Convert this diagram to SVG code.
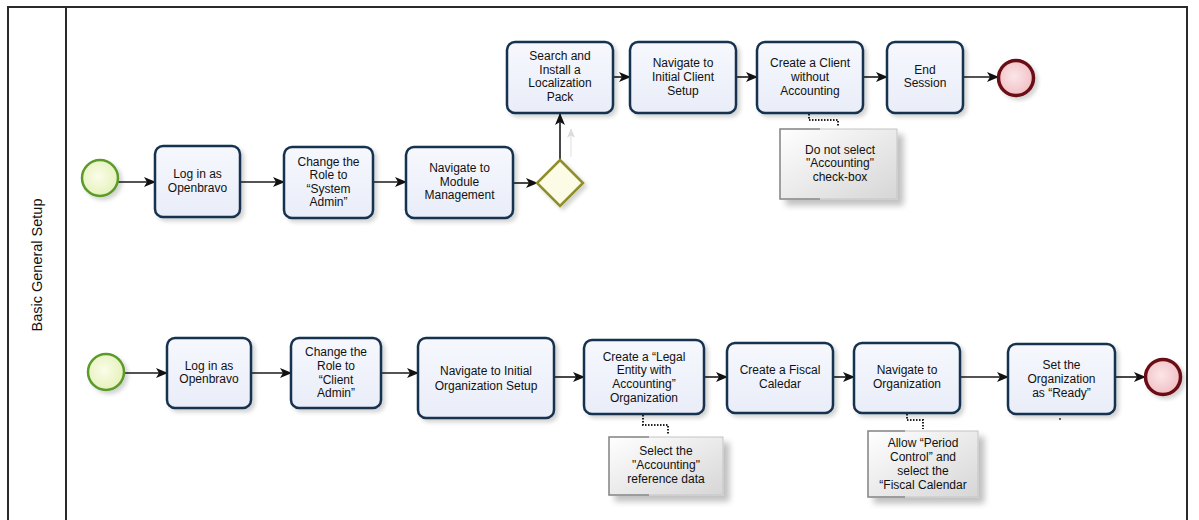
<svg xmlns="http://www.w3.org/2000/svg" width="1199" height="520" viewBox="0 0 1199 520">
<style>
.task{fill:url(#taskGrad);stroke:#17324f;stroke-width:2.5;filter:url(#shadow)}
.t{font-family:"Liberation Sans",Arial,sans-serif;font-size:12px;fill:#111;text-anchor:middle}
.flow{fill:none;stroke:#1a1a1a;stroke-width:1.6;marker-end:url(#arrow)}
.assoc{fill:none;stroke:#222;stroke-width:2;stroke-dasharray:1.5 1.5}
.note{fill:url(#noteGrad);stroke:#c4c4c4;stroke-width:1;filter:url(#noteShadow)}
.bracket{fill:none;stroke:#8a8a8a;stroke-width:1.5}
</style>
<defs>
<linearGradient id="taskGrad" x1="0" y1="0" x2="0" y2="1">
<stop offset="0" stop-color="#f6f8fd"/><stop offset="1" stop-color="#e9edf8"/>
</linearGradient>
<linearGradient id="noteGrad" x1="0" y1="0" x2="1" y2="1">
<stop offset="0" stop-color="#ffffff"/><stop offset="1" stop-color="#d6d6d6"/>
</linearGradient>
<radialGradient id="startGrad" cx="0.45" cy="0.45" r="0.6">
<stop offset="0" stop-color="#fbfde8"/><stop offset="1" stop-color="#e4f0b8"/>
</radialGradient>
<radialGradient id="endGrad" cx="0.45" cy="0.45" r="0.6">
<stop offset="0" stop-color="#fbe6e8"/><stop offset="1" stop-color="#f0bcc2"/>
</radialGradient>
<filter id="shadow" x="-10%" y="-10%" width="130%" height="130%">
<feGaussianBlur in="SourceAlpha" stdDeviation="2"/>
<feOffset dx="3" dy="3" result="b"/>
<feComponentTransfer><feFuncA type="linear" slope="0.18"/></feComponentTransfer>
<feMerge><feMergeNode/><feMergeNode in="SourceGraphic"/></feMerge>
</filter>
<filter id="noteShadow" x="-10%" y="-10%" width="135%" height="140%">
<feGaussianBlur in="SourceAlpha" stdDeviation="3"/>
<feOffset dx="6" dy="6" result="b"/>
<feComponentTransfer><feFuncA type="linear" slope="0.25"/></feComponentTransfer>
<feMerge><feMergeNode/><feMergeNode in="SourceGraphic"/></feMerge>
</filter>
<marker id="arrow" viewBox="0 0 12 10" refX="11" refY="5" markerWidth="12" markerHeight="10" markerUnits="userSpaceOnUse" orient="auto">
<path d="M0,0 L12,5 L0,10 L3,5 Z" fill="#111"/>
</marker>
<marker id="ghostArrow" viewBox="0 0 12 10" refX="11" refY="5" markerWidth="10" markerHeight="8" markerUnits="userSpaceOnUse" orient="auto">
<path d="M0,0 L12,5 L0,10 L3,5 Z" fill="#dcdcdc"/>
</marker>
</defs>
<rect x="0" y="0" width="1199" height="520" fill="#ffffff"/>

<g id="lane">
<rect x="8" y="7" width="1179" height="530" fill="none" stroke="#2a2a2a" stroke-width="2"/>
<line x1="66" y1="7" x2="66" y2="520" stroke="#2a2a2a" stroke-width="2"/>
<text transform="translate(42,265) rotate(-90)" font-family="Liberation Sans,Arial,sans-serif" font-size="14.5" fill="#111" text-anchor="middle">Basic General Setup</text>
</g>

<g id="connectors">
<path class="flow" d="M118,182 L155,182"/>
<path class="flow" d="M240,182 L284,182"/>
<path class="flow" d="M373,182 L406,182"/>
<path class="flow" d="M513,183 L537,183"/>
<path class="flow" d="M560,160 L560,114"/>
<path d="M571,157 L571,129" fill="none" stroke="#e4e4e4" stroke-width="1.2" marker-end="url(#ghostArrow)"/>
<path class="flow" d="M613,77 L630,77"/>
<path class="flow" d="M736,77 L757,77"/>
<path class="flow" d="M863,77 L887,77"/>
<path class="flow" d="M963,77 L998,77"/>
<path class="flow" d="M124,373 L167,373"/>
<path class="flow" d="M251,373 L291,373"/>
<path class="flow" d="M381,373 L418,373"/>
<path class="flow" d="M554,377 L584,377"/>
<path class="flow" d="M704,377 L727,377"/>
<path class="flow" d="M833,377 L854,377"/>
<path class="flow" d="M960,377 L1008,377"/>
<path class="flow" d="M1115,377 L1145,377"/>
<path class="assoc" d="M809,114 L809,120 L838,120 L838,127"/>
<path class="assoc" d="M643,415 L643,425 L668,425 L668,434"/>
<path class="assoc" d="M907,414 L907,420 L923,420 L923,429"/>
</g>

<g id="start1"><circle cx="100" cy="178" r="18" fill="url(#startGrad)" stroke="#5b9a2c" stroke-width="2.5" filter="url(#shadow)"/></g>
<g id="login1"><rect class="task" x="155" y="146" width="85" height="71" rx="8"/>
<text class="t" x="197.5" y="178">Log in as</text><text class="t" x="197.5" y="192">Openbravo</text></g>
<g id="role1"><rect class="task" x="284" y="147" width="89" height="71" rx="8"/>
<text class="t" x="328.5" y="166">Change the</text><text class="t" x="328.5" y="179">Role to</text><text class="t" x="328.5" y="193">“System</text><text class="t" x="328.5" y="206">Admin”</text></g>
<g id="module"><rect class="task" x="406" y="147" width="107" height="71" rx="8"/>
<text class="t" x="459.5" y="172">Navigate to</text><text class="t" x="459.5" y="186">Module</text><text class="t" x="459.5" y="199">Management</text></g>
<g id="gateway"><path d="M560,160 L583,183 L560,206 L537,183 Z" fill="#fcfce6" stroke="#8f8f2c" stroke-width="2.5" filter="url(#shadow)"/></g>
<g id="search"><rect class="task" x="507" y="42" width="106" height="71" rx="8"/>
<text class="t" x="560" y="60">Search and</text><text class="t" x="560" y="74">Install a</text><text class="t" x="560" y="87">Localization</text><text class="t" x="560" y="101">Pack</text></g>
<g id="initclient"><rect class="task" x="630" y="42" width="106" height="71" rx="8"/>
<text class="t" x="683" y="67">Navigate to</text><text class="t" x="683" y="81">Initial Client</text><text class="t" x="683" y="95">Setup</text></g>
<g id="client"><rect class="task" x="757" y="42" width="106" height="71" rx="8"/>
<text class="t" x="810" y="67">Create a Client</text><text class="t" x="810" y="81">without</text><text class="t" x="810" y="95">Accounting</text></g>
<g id="endsession"><rect class="task" x="887" y="42" width="76" height="71" rx="8"/>
<text class="t" x="925" y="74">End</text><text class="t" x="925" y="87">Session</text></g>
<g id="end1"><circle cx="1016" cy="78" r="17.5" fill="url(#endGrad)" stroke="#6a0f14" stroke-width="3.5" filter="url(#shadow)"/></g>
<g id="note1"><rect class="note" x="780" y="129" width="117" height="70"/>
<path class="bracket" d="M820,129 L780,129 L780,199 L820,199"/>
<text class="t" x="840" y="154">Do not select</text><text class="t" x="840" y="167">"Accounting"</text><text class="t" x="840" y="181">check-box</text></g>

<g id="start2"><circle cx="106" cy="372" r="18" fill="url(#startGrad)" stroke="#5b9a2c" stroke-width="2.5" filter="url(#shadow)"/></g>
<g id="login2"><rect class="task" x="167" y="338" width="84" height="70" rx="8"/>
<text class="t" x="209" y="370">Log in as</text><text class="t" x="209" y="383">Openbravo</text></g>
<g id="role2"><rect class="task" x="291" y="338" width="90" height="70" rx="8"/>
<text class="t" x="336" y="356">Change the</text><text class="t" x="336" y="370">Role to</text><text class="t" x="336" y="384">“Client</text><text class="t" x="336" y="397">Admin”</text></g>
<g id="initorg"><rect class="task" x="418" y="338" width="136" height="80" rx="8"/>
<text class="t" x="486" y="375">Navigate to Initial</text><text class="t" x="486" y="390">Organization Setup</text></g>
<g id="legal"><rect class="task" x="584" y="340" width="120" height="74" rx="8"/>
<text class="t" x="644" y="361">Create a “Legal</text><text class="t" x="644" y="374">Entity with</text><text class="t" x="644" y="388">Accounting”</text><text class="t" x="644" y="402">Organization</text></g>
<g id="fiscal"><rect class="task" x="727" y="343" width="106" height="70" rx="8"/>
<text class="t" x="780" y="374">Create a Fiscal</text><text class="t" x="780" y="388">Caledar</text></g>
<g id="navorg"><rect class="task" x="854" y="343" width="106" height="70" rx="8"/>
<text class="t" x="907" y="374">Navigate to</text><text class="t" x="907" y="388">Organization</text></g>
<g id="ready"><rect class="task" x="1008" y="344" width="107" height="70" rx="8"/>
<text class="t" x="1061.5" y="369">Set the</text><text class="t" x="1061.5" y="383">Organization</text><text class="t" x="1061.5" y="397">as “Ready”</text>
<circle cx="1060" cy="419" r="1" fill="#333"/></g>
<g id="end2"><circle cx="1163" cy="377" r="17.5" fill="url(#endGrad)" stroke="#6a0f14" stroke-width="3.5" filter="url(#shadow)"/></g>
<g id="note2"><rect class="note" x="609" y="437" width="114" height="58"/>
<path class="bracket" d="M649,437 L609,437 L609,495 L649,495"/>
<text class="t" x="666" y="455">Select the</text><text class="t" x="666" y="469">"Accounting"</text><text class="t" x="666" y="483">reference data</text></g>
<g id="note3"><rect class="note" x="868" y="431" width="110" height="66"/>
<path class="bracket" d="M905,431 L868,431 L868,497 L905,497"/>
<text class="t" x="923" y="447">Allow “Period</text><text class="t" x="923" y="461">Control” and</text><text class="t" x="923" y="475">select the</text><text class="t" x="923" y="489">“Fiscal Calendar</text></g>
</svg>
